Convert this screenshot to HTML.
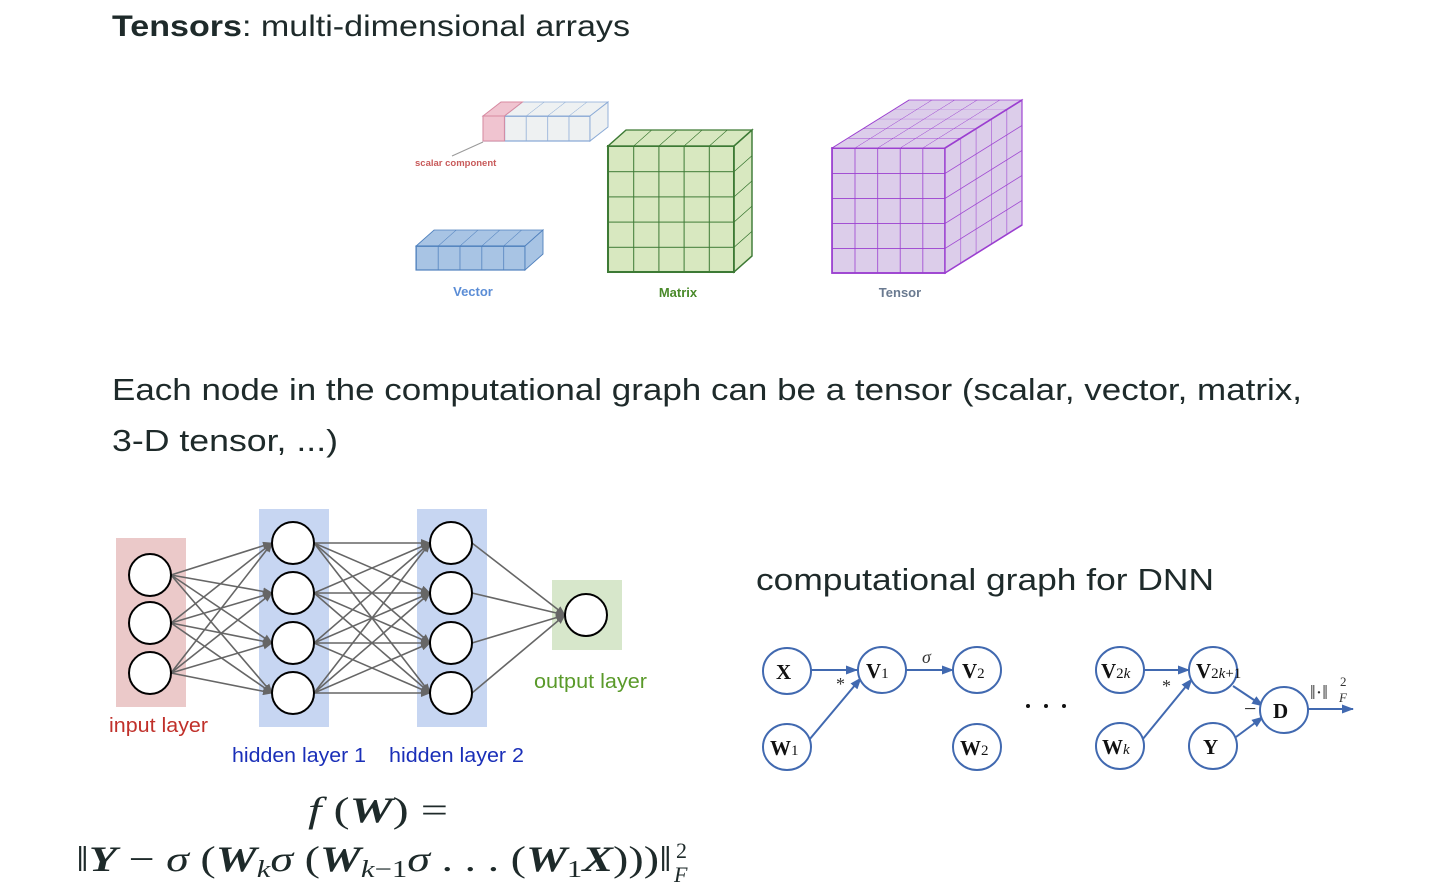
<!DOCTYPE html>
<html><head><meta charset="utf-8"><style>
html,body{margin:0;padding:0;background:#fff;width:1434px;height:890px;overflow:hidden}
svg{display:block}
.t{font-family:"Liberation Sans",sans-serif;fill:#1e2a2a}
.m{font-family:"Liberation Serif",serif;fill:#1e2a2a}
</style></head><body>
<svg width="1434" height="890" viewBox="0 0 1434 890" xmlns="http://www.w3.org/2000/svg">
<defs>
<pattern id="pg" width="20" height="20" patternUnits="userSpaceOnUse"><rect width="20" height="20" fill="#d8e8c0"/><path d="M0 0H20M0 0V20" stroke="#3d7a35" stroke-width="1.6" fill="none"/></pattern>
<pattern id="pp" width="20" height="20" patternUnits="userSpaceOnUse"><rect width="20" height="20" fill="#dccdea"/><path d="M0 0H20M0 0V20" stroke="#9b3fd0" stroke-width="1.4" fill="none"/></pattern>
<pattern id="pb" width="20" height="20" patternUnits="userSpaceOnUse"><rect width="20" height="20" fill="#a8c4e4"/><path d="M0 0H20M0 0V20" stroke="#4f80bd" stroke-width="1.4" fill="none"/></pattern>
<pattern id="pw" width="20" height="20" patternUnits="userSpaceOnUse"><rect width="20" height="20" fill="#eef1f2"/><path d="M0 0H20M0 0V20" stroke="#8aaad6" stroke-width="1.4" fill="none"/></pattern>
<marker id="ag" markerWidth="10" markerHeight="8" refX="9" refY="4" orient="auto" markerUnits="userSpaceOnUse"><path d="M0 0L10 4L0 8z" fill="#666"/></marker>
<marker id="ab" markerWidth="12" markerHeight="9" refX="11" refY="4.5" orient="auto" markerUnits="userSpaceOnUse"><path d="M0 0L12 4.5L0 9z" fill="#4169b0"/></marker>
</defs>

<text class="t" x="112" y="36" font-size="30" textLength="518" lengthAdjust="spacingAndGlyphs"><tspan font-weight="bold">Tensors</tspan>: multi-dimensional arrays</text>

<g>
<rect x="0" y="0" width="100" height="20" fill="url(#pw)" transform="matrix(1.07,0,0,1.25,483,116)" stroke="#8aaad6"/>
<rect x="483" y="116" width="21.4" height="25" fill="#f0c4d0" stroke="#d88aa0"/>
<rect x="0" y="0" width="100" height="20" fill="url(#pw)" transform="matrix(1.07,0,0.9,-0.7,483,116)" stroke="#8aaad6"/>
<path d="M483 116l18 -14h21.4l-18 14z" fill="#f0c4d0" stroke="#d88aa0"/>
<rect x="0" y="0" width="20" height="20" fill="#eef1f2" transform="matrix(0.9,-0.7,0,1.25,590,116)" stroke="#8aaad6"/>
<line x1="483" y1="142" x2="452" y2="156" stroke="#999"/>
<text x="415" y="166" font-family="Liberation Sans,sans-serif" font-size="9.5" font-weight="bold" fill="#c85a5a">scalar component</text>
</g>
<g>
<rect x="0" y="0" width="100" height="20" fill="url(#pb)" transform="matrix(1.09,0,0,1.2,416,246)" stroke="#4f80bd"/>
<rect x="0" y="0" width="100" height="20" fill="url(#pb)" transform="matrix(1.09,0,0.9,-0.8,416,246)" stroke="#4f80bd"/>
<rect x="0" y="0" width="20" height="20" fill="#a8c4e4" transform="matrix(0.9,-0.8,0,1.2,525,246)" stroke="#4f80bd"/>
<text x="473" y="296" text-anchor="middle" font-family="Liberation Sans,sans-serif" font-size="13" font-weight="bold" fill="#5b8dd6">Vector</text>
</g>
<g>
<rect x="0" y="0" width="100" height="100" fill="url(#pg)" transform="matrix(1.26,0,0,1.26,608,146)" stroke="#3d7a35" stroke-width="1.6"/>
<rect x="0" y="0" width="100" height="20" fill="url(#pg)" transform="matrix(1.26,0,0.9,-0.8,608,146)" stroke="#3d7a35" stroke-width="1.6"/>
<rect x="0" y="0" width="20" height="100" fill="url(#pg)" transform="matrix(0.9,-0.8,0,1.26,734,146)" stroke="#3d7a35" stroke-width="1.6"/>
<text x="678" y="297" text-anchor="middle" font-family="Liberation Sans,sans-serif" font-size="13" font-weight="bold" fill="#4a8a2a">Matrix</text>
</g>
<g>
<rect x="0" y="0" width="100" height="100" fill="url(#pp)" transform="matrix(1.13,0,0,1.25,832,148)" stroke="#9b3fd0" stroke-width="1.5"/>
<rect x="0" y="0" width="100" height="100" fill="url(#pp)" transform="matrix(1.13,0,0.77,-0.48,832,148)" stroke="#9b3fd0" stroke-width="1.5"/>
<rect x="0" y="0" width="100" height="100" fill="url(#pp)" transform="matrix(0.77,-0.48,0,1.25,945,148)" stroke="#9b3fd0" stroke-width="1.5"/>
<text x="900" y="297" text-anchor="middle" font-family="Liberation Sans,sans-serif" font-size="13" font-weight="bold" fill="#6a7a90">Tensor</text>
</g>

<text class="t" x="112" y="400" font-size="31" textLength="1190" lengthAdjust="spacingAndGlyphs">Each node in the computational graph can be a tensor (scalar, vector, matrix,</text>
<text class="t" x="112" y="451" font-size="31" textLength="226" lengthAdjust="spacingAndGlyphs">3-D tensor, ...)</text>

<rect x="116" y="538" width="70" height="169" fill="#ebc9c9"/>
<rect x="259" y="509" width="70" height="218" fill="#c7d6f2"/>
<rect x="417" y="509" width="70" height="218" fill="#c7d6f2"/>
<rect x="552" y="580" width="70" height="70" fill="#d7e7cb"/>
<g stroke="#666" stroke-width="1.6" marker-end="url(#ag)">
<line x1="171" y1="575" x2="272" y2="543"/><line x1="171" y1="575" x2="272" y2="593"/><line x1="171" y1="575" x2="272" y2="643"/><line x1="171" y1="575" x2="272" y2="693"/>
<line x1="171" y1="623" x2="272" y2="543"/><line x1="171" y1="623" x2="272" y2="593"/><line x1="171" y1="623" x2="272" y2="643"/><line x1="171" y1="623" x2="272" y2="693"/>
<line x1="171" y1="673" x2="272" y2="543"/><line x1="171" y1="673" x2="272" y2="593"/><line x1="171" y1="673" x2="272" y2="643"/><line x1="171" y1="673" x2="272" y2="693"/>
<line x1="314" y1="543" x2="430" y2="543"/><line x1="314" y1="543" x2="430" y2="593"/><line x1="314" y1="543" x2="430" y2="643"/><line x1="314" y1="543" x2="430" y2="693"/>
<line x1="314" y1="593" x2="430" y2="543"/><line x1="314" y1="593" x2="430" y2="593"/><line x1="314" y1="593" x2="430" y2="643"/><line x1="314" y1="593" x2="430" y2="693"/>
<line x1="314" y1="643" x2="430" y2="543"/><line x1="314" y1="643" x2="430" y2="593"/><line x1="314" y1="643" x2="430" y2="643"/><line x1="314" y1="643" x2="430" y2="693"/>
<line x1="314" y1="693" x2="430" y2="543"/><line x1="314" y1="693" x2="430" y2="593"/><line x1="314" y1="693" x2="430" y2="643"/><line x1="314" y1="693" x2="430" y2="693"/>
<line x1="472" y1="543" x2="565" y2="615"/><line x1="472" y1="593" x2="565" y2="615"/><line x1="472" y1="643" x2="565" y2="615"/><line x1="472" y1="693" x2="565" y2="615"/>
</g>
<g fill="#fff" stroke="#000" stroke-width="2">
<circle cx="150" cy="575" r="21"/><circle cx="150" cy="623" r="21"/><circle cx="150" cy="673" r="21"/>
<circle cx="293" cy="543" r="21"/><circle cx="293" cy="593" r="21"/><circle cx="293" cy="643" r="21"/><circle cx="293" cy="693" r="21"/>
<circle cx="451" cy="543" r="21"/><circle cx="451" cy="593" r="21"/><circle cx="451" cy="643" r="21"/><circle cx="451" cy="693" r="21"/>
<circle cx="586" cy="615" r="21"/>
</g>
<g font-family="Liberation Sans,sans-serif" font-size="20">
<text x="109" y="732" fill="#c0302a" textLength="99" lengthAdjust="spacingAndGlyphs">input layer</text>
<text x="232" y="762" fill="#1a2fb8" textLength="134" lengthAdjust="spacingAndGlyphs">hidden layer 1</text>
<text x="389" y="762" fill="#1a2fb8" textLength="135" lengthAdjust="spacingAndGlyphs">hidden layer 2</text>
<text x="534" y="688" fill="#5a9a2a" textLength="113" lengthAdjust="spacingAndGlyphs">output layer</text>
</g>

<text class="m" x="308" y="822" font-size="36" textLength="140" lengthAdjust="spacingAndGlyphs"><tspan font-style="italic">f</tspan> (<tspan font-weight="bold" font-style="italic">W</tspan>) =</text>
<text class="m" x="76" y="871" font-size="36" textLength="596" lengthAdjust="spacingAndGlyphs">‖<tspan font-weight="bold" font-style="italic">Y</tspan> − <tspan font-style="italic">σ</tspan> (<tspan font-weight="bold" font-style="italic">W</tspan><tspan font-size="24" font-style="italic" dy="6">k</tspan><tspan font-style="italic" dy="-6">σ</tspan> (<tspan font-weight="bold" font-style="italic">W</tspan><tspan font-size="24" dy="6"><tspan font-style="italic">k</tspan>−1</tspan><tspan font-style="italic" dy="-6">σ</tspan> . . . (<tspan font-weight="bold" font-style="italic">W</tspan><tspan font-size="24" dy="6">1</tspan><tspan font-weight="bold" font-style="italic" dy="-6">X</tspan>)))‖</text>
<text class="m" x="676" y="858" font-size="22">2</text>
<text class="m" x="674" y="882" font-size="22" font-style="italic">F</text>

<text class="t" x="756" y="590" font-size="31" textLength="458" lengthAdjust="spacingAndGlyphs">computational graph for DNN</text>
<g stroke="#4169b0" stroke-width="2" marker-end="url(#ab)">
<line x1="811" y1="670" x2="857" y2="670"/>
<line x1="809" y1="740" x2="861" y2="678"/>
<line x1="906" y1="670" x2="953" y2="670"/>
<line x1="1144" y1="670" x2="1189" y2="670"/>
<line x1="1142" y1="740" x2="1192" y2="679"/>
<line x1="1233" y1="686" x2="1263" y2="706"/>
<line x1="1236" y1="737" x2="1263" y2="717"/>
<line x1="1308" y1="709" x2="1353" y2="709"/>
</g>
<g fill="#fff" stroke="#4169b0" stroke-width="2">
<ellipse cx="787" cy="671" rx="24" ry="23"/><ellipse cx="882" cy="670" rx="24" ry="23"/><ellipse cx="977" cy="670" rx="24" ry="23"/>
<ellipse cx="787" cy="747" rx="24" ry="23"/><ellipse cx="977" cy="747" rx="24" ry="23"/>
<ellipse cx="1120" cy="670" rx="24" ry="23"/><ellipse cx="1213" cy="670" rx="24" ry="23"/>
<ellipse cx="1284" cy="710" rx="24" ry="23"/>
<ellipse cx="1120" cy="746" rx="24" ry="23"/><ellipse cx="1213" cy="746" rx="24" ry="23"/>
</g>
<g font-family="Liberation Serif,serif" fill="#111" font-size="21" font-weight="bold">
<text x="776" y="679">X</text>
<text x="866" y="678">V<tspan font-weight="normal" font-size="15">1</tspan></text>
<text x="962" y="678">V<tspan font-weight="normal" font-size="15">2</tspan></text>
<text x="770" y="755">W<tspan font-weight="normal" font-size="15">1</tspan></text>
<text x="960" y="755">W<tspan font-weight="normal" font-size="15">2</tspan></text>
<text x="1101" y="678">V<tspan font-weight="normal" font-size="15">2<tspan font-style="italic">k</tspan></tspan></text>
<text x="1196" y="678">V<tspan font-weight="normal" font-size="15">2<tspan font-style="italic">k</tspan>+1</tspan></text>
<text x="1273" y="718">D</text>
<text x="1102" y="754">W<tspan font-weight="normal" font-size="15" font-style="italic">k</tspan></text>
<text x="1203" y="754">Y</text>
</g>
<g font-family="Liberation Serif,serif" fill="#333">
<text x="836" y="690" font-size="18">*</text>
<text x="1162" y="692" font-size="18">*</text>
<text x="922" y="663" font-size="18" font-style="italic">σ</text>
<text x="1244" y="716" font-size="22">−</text>
<text x="1310" y="699" font-size="20">‖·‖</text>
<text x="1340" y="686" font-size="13">2</text>
<text x="1339" y="702" font-size="13" font-style="italic">F</text>
</g>
<g fill="#111"><circle cx="1028" cy="706" r="2"/><circle cx="1046" cy="706" r="2"/><circle cx="1064" cy="706" r="2"/></g>
</svg>
</body></html>
